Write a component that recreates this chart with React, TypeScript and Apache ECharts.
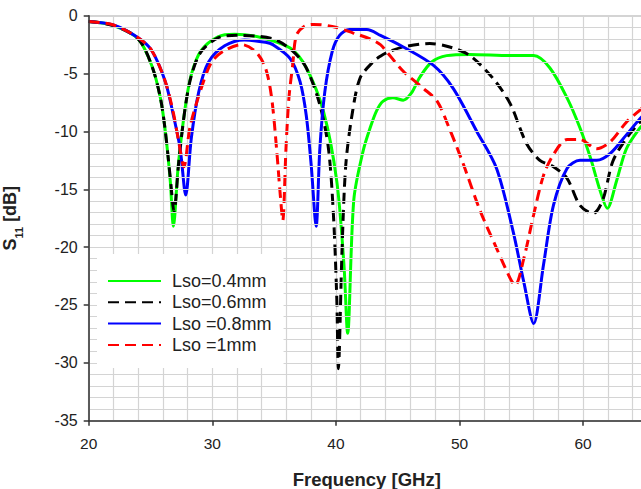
import React, { useEffect, useRef } from "react";
import * as echarts from "echarts";

const seriesNames = ["Lso=0.4mm", "Lso=0.6mm", "Lso =0.8mm", "Lso =1mm"];

const freqG = [20, 22, 24, 25.1, 25.8, 26.2, 26.6, 26.85, 27.25, 27.8, 28.3, 29.1, 30.5, 31.8, 34, 36.3, 37.6, 39.0, 40.07, 40.65, 40.95, 41.45, 42.2, 42.8, 43.3, 43.8, 44.6, 45.45, 46.1, 46.8, 47.75, 48.96, 50.85, 54.1, 56.0, 57.3, 58.7, 59.75, 60.6, 61.4, 61.96, 62.7, 63.5, 64.6, 65];
const s11G = [-0.5, -0.85, -2.0, -4.3, -7.1, -10.0, -14.3, -18.2, -12.9, -8.0, -5.1, -3.0, -1.8, -1.6, -1.9, -2.8, -4.5, -8.3, -14.3, -21.5, -27.45, -15.9, -11.7, -9.6, -8.2, -7.4, -7.1, -7.3, -6.7, -5.3, -4.0, -3.45, -3.35, -3.45, -3.45, -4.5, -7.1, -9.7, -12.3, -15.2, -16.65, -14.3, -11.5, -9.7, -9.3];

const freqK = [20, 22, 24, 25.1, 25.8, 26.2, 26.6, 26.9, 27.3, 27.8, 28.3, 29.1, 30.5, 32, 34.9, 36.55, 37.6, 38.7, 39.4, 39.8, 40.07, 40.2, 40.5, 40.8, 41.3, 41.95, 43.0, 43.6, 44.1, 45.45, 47.6, 49.2, 50.85, 52.7, 54.1, 55.4, 56.5, 57.6, 58.7, 59.75, 60.8, 61.6, 62.4, 63.5, 64.6, 65];
const s11K = [-0.5, -0.85, -2.0, -4.3, -7.1, -10.0, -14.0, -16.9, -12.5, -8.0, -5.2, -3.1, -1.9, -1.7, -2.0, -3.1, -4.5, -7.7, -11.5, -17.2, -24.4, -30.5, -20.1, -12.9, -8.6, -5.4, -4.0, -3.5, -3.2, -2.7, -2.4, -2.7, -3.45, -5.4, -7.6, -11.0, -12.5, -13.05, -14.05, -16.4, -17.1, -15.9, -12.6, -10.6, -9.2, -8.8];

const freqB = [20, 22, 24, 25.1, 26.2, 26.85, 27.4, 27.85, 28.3, 28.9, 29.7, 31.0, 32.6, 34.3, 34.9, 36.3, 37.1, 37.6, 38.0, 38.4, 38.7, 39.1, 39.7, 40.3, 41.1, 42.5, 43.6, 45.45, 47.9, 49.5, 51.4, 53.0, 54.35, 55.2, 56.0, 56.8, 57.6, 58.7, 59.75, 61.1, 62.2, 63.5, 64.6, 65];
const s11B = [-0.5, -0.8, -1.9, -3.0, -5.7, -8.6, -11.5, -15.5, -10.6, -6.6, -4.0, -2.6, -2.1, -2.3, -2.5, -3.7, -5.7, -8.6, -12.9, -18.2, -11.5, -6.6, -3.1, -1.7, -1.2, -1.2, -1.7, -2.7, -4.3, -6.3, -10.0, -13.2, -18.7, -23.0, -26.6, -21.5, -16.4, -13.2, -12.5, -12.5, -11.9, -10.3, -8.9, -8.5];

const freqR = [20, 22, 24, 25.1, 26.2, 26.85, 27.3, 27.7, 28.2, 29.1, 29.95, 31.0, 32.4, 33.5, 34.3, 34.8, 35.2, 35.5, 35.7, 35.96, 36.2, 36.5, 36.8, 37.4, 38.2, 39.8, 41.4, 42.76, 43.6, 44.1, 45.45, 47.1, 48.2, 49.2, 50.3, 51.65, 53.0, 54.1, 54.5, 55.2, 56.0, 56.8, 57.6, 58.7, 59.75, 61.1, 62.2, 63.5, 64.6, 65];
const s11R = [-0.5, -0.8, -1.9, -3.0, -5.7, -8.4, -11.0, -13.05, -9.6, -6.3, -4.0, -3.0, -2.5, -3.1, -4.5, -7.1, -11.5, -15.5, -17.7, -11.5, -7.1, -4.3, -1.7, -0.95, -0.75, -0.95, -1.5, -2.0, -2.5, -3.1, -4.8, -6.3, -7.4, -9.8, -12.8, -16.8, -20.1, -22.7, -23.3, -21.0, -17.2, -13.8, -12.0, -10.7, -10.7, -11.5, -10.9, -9.2, -8.15, -7.8];

const xTicks = [20, 30, 40, 50, 60];
const yTicks = [0, -5, -10, -15, -20, -25, -30, -35];

const zip = (xs: number[], ys: number[]) => xs.map((x, i) => [x, ys[i]]);

export default function App() {
  const ref = useRef<HTMLDivElement>(null);
  useEffect(() => {
    if (!ref.current) return;
    const chart = echarts.init(ref.current, null, { renderer: "svg" });
    const font = "'Liberation Sans', Arial, sans-serif";
    const mk = (name: string, xs: number[], ys: number[], color: string, dashed: boolean) => ({
      name,
      type: "line",
      xAxisIndex: 0,
      yAxisIndex: 0,
      data: zip(xs, ys),
      showSymbol: false,
      symbol: "circle",
      symbolSize: 0,
      smooth: 0.3,
      lineStyle: { color, width: 3, type: dashed ? [11, 6] : "solid" },
      itemStyle: { color },
      z: 3,
    });
    chart.setOption({
      animation: false,
      backgroundColor: "#fff",
      grid: {
        left: 88.7,
        top: 15.7,
        width: 556.2,
        height: 405,
        show: true,
        borderColor: "#555",
        borderWidth: 1.2,
        backgroundColor: "transparent",
        containLabel: false,
        outerBoundsMode: "none",
      },
      legend: {
        left: 97,
        top: 254,
        orient: "vertical",
        backgroundColor: "#fff",
        padding: [18, 12, 14, 10],
        itemWidth: 53,
        itemHeight: 14,
        itemGap: 3.3,
        data: seriesNames,
        itemStyle: { opacity: 0 },
        textStyle: { fontSize: 18, color: "#222", fontFamily: font, padding: [0, 0, 0, 6] },
        z: 10,
      },
      xAxis: [
        {
          type: "value",
          min: xTicks[0],
          max: 65,
          interval: 10,
          position: "bottom",
          axisLine: { show: true, onZero: false, lineStyle: { color: "#333", width: 1.5 } },
          axisTick: { show: true, length: 5, lineStyle: { color: "#333", width: 1.5 } },
          axisLabel: {
            margin: 15,
            fontSize: 15.5,
            color: "#222",
            fontFamily: font,
            formatter: (v: number) => (xTicks.includes(v) ? String(v) : ""),
          },
          splitLine: { show: false },
          name: "Frequency [GHz]",
          nameLocation: "middle",
          nameGap: 49,
          nameTextStyle: { fontSize: 18.5, fontWeight: "bold", color: "#222", fontFamily: font },
          z: 5,
        },
        {
          type: "value",
          min: xTicks[0],
          max: 65,
          interval: 2,
          position: "bottom",
          axisLine: { show: false },
          axisTick: { show: false },
          axisLabel: { show: false },
          splitLine: { show: true, lineStyle: { color: "#d4d4d4", width: 1.2 } },
        },
      ],
      yAxis: [
        {
          type: "value",
          min: yTicks[yTicks.length - 1],
          max: yTicks[0],
          interval: 5,
          axisLine: { show: true, onZero: false, lineStyle: { color: "#333", width: 1.5 } },
          axisTick: { show: true, length: 5, lineStyle: { color: "#333", width: 1.5 } },
          axisLabel: { margin: 11, fontSize: 16, color: "#222", fontFamily: font },
          splitLine: { show: true, lineStyle: { color: "#d4d4d4", width: 1.2 } },
          minorTick: { show: false, splitNumber: 5 },
          minorSplitLine: { show: true, lineStyle: { color: "#d4d4d4", width: 1.2 } },
          name: "{b|S}{s|11}{b| [dB]}",
          nameLocation: "middle",
          nameRotate: 90,
          nameGap: 59,
          nameTextStyle: {
            color: "#222",
            fontFamily: font,
            rich: {
              b: { fontSize: 18, fontWeight: "bold", color: "#222", fontFamily: font, height: 22, verticalAlign: "top" },
              s: { fontSize: 11, fontWeight: "bold", color: "#222", fontFamily: font, height: 22, verticalAlign: "bottom", padding: [9, 0, 0, 0] },
            },
          },
          z: 5,
        },
      ],
      series: [
        mk(seriesNames[0], freqG, s11G, "#00ff00", false),
        mk(seriesNames[1], freqK, s11K, "#000000", true),
        mk(seriesNames[2], freqB, s11B, "#0000ff", false),
        mk(seriesNames[3], freqR, s11R, "#ff0000", true),
      ],
    });
    return () => chart.dispose();
  }, []);
  return (
    <div
      ref={ref}
      style={{ position: "fixed", left: 0, top: 0, width: 641, height: 489, overflow: "hidden", background: "#fff" }}
    />
  );
}
